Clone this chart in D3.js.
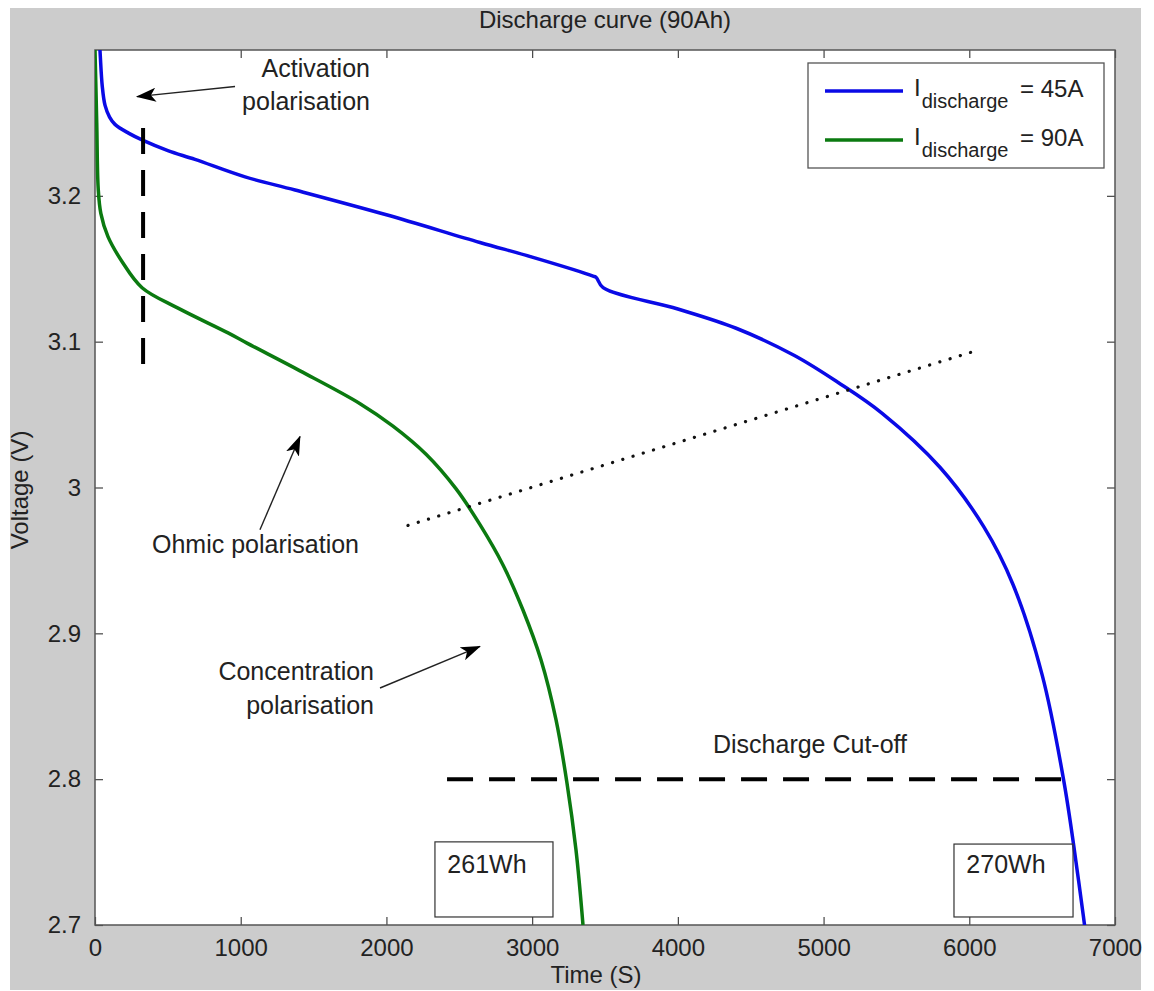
<!DOCTYPE html>
<html>
<head>
<meta charset="utf-8">
<script src="https://cdn.jsdelivr.net/npm/d3@7"></script>
<style>
  body { margin: 0; background: #fff; }
  svg text { font-family: "Liberation Sans", Arial, sans-serif; fill: #222; }
</style>
</head>
<body>
<svg id="chart" width="1154" height="991"></svg>
<script>
// Discharge curves (time in s, voltage in V)
const time45 = [0, 34, 50, 69, 100, 137, 230, 330, 500, 686, 1030, 1373, 2000, 2642, 3000, 3418, 3440, 3487, 4000, 4400, 4800, 5100, 5400, 5800, 6100, 6300, 6500, 6650, 6750, 6830];
const volt45 = [3.36, 3.30, 3.275, 3.262, 3.254, 3.249, 3.243, 3.238, 3.231, 3.225, 3.213, 3.204, 3.187, 3.168, 3.158, 3.145, 3.144, 3.137, 3.1224, 3.1092, 3.0905, 3.072, 3.051, 3.0137, 2.9730, 2.9335, 2.8715, 2.798, 2.7305, 2.67];

const time90 = [0, 12, 22, 40, 89, 185, 323, 570, 913, 1043, 1407, 1819, 2045, 2272, 2477, 2642, 2800, 2937, 3061, 3164, 3239, 3301, 3349];
const volt90 = [3.30, 3.25, 3.205, 3.188, 3.172, 3.155, 3.137, 3.123, 3.106, 3.099, 3.080, 3.0575, 3.0421, 3.0228, 2.9992, 2.9745, 2.9469, 2.9160, 2.8817, 2.8406, 2.7974, 2.7514, 2.70];

const seriesNames = ['= 45A', '= 90A'];
const seriesColors = ['#0a0ae6', '#0b7a10'];

const xTicks = [0, 1000, 2000, 3000, 4000, 5000, 6000, 7000];
const yTicks = [2.7, 2.8, 2.9, 3.0, 3.1, 3.2];

// annotation lines in data units: [t1, v1, t2, v2]
const activationDash = [330, 3.2465, 330, 3.082];
const cutoffDash = [2416, 2.8, 6691, 2.8];
const dottedTrend = [2148, 2.974, 6054, 3.094];
const arrows = [
  [961, 3.275, 288, 3.268],
  [1132, 2.971, 1407, 3.035],
  [1956, 2.8625, 2642, 2.891]
];
const energyBoxes = [
  { label: '261Wh', t0: 2333, t1: 3143, v0: 2.7055, v1: 2.757 },
  { label: '270Wh', t0: 5895, t1: 6712, v0: 2.7055, v1: 2.7555 }
];

const svg = d3.select('#chart');
const plot = { left: 95, right: 1115, top: 50, bottom: 925 };

// grey figure background like MATLAB
svg.append('rect').attr('x', 10).attr('y', 8).attr('width', 1131).attr('height', 982).attr('fill', '#cccccc');

const x = d3.scaleLinear().domain([0, 7000]).range([plot.left, plot.right]);
const y = d3.scaleLinear().domain([2.7, 3.3]).range([plot.bottom, plot.top]);

svg.append('rect')
  .attr('x', plot.left).attr('y', plot.top)
  .attr('width', plot.right - plot.left).attr('height', plot.bottom - plot.top)
  .attr('fill', '#fff');

svg.append('defs').append('clipPath').attr('id', 'clip')
  .append('rect')
  .attr('x', plot.left).attr('y', plot.top)
  .attr('width', plot.right - plot.left).attr('height', plot.bottom - plot.top);

// axes with inward ticks on all four sides
const tickLen = 8;
svg.append('g').attr('transform', `translate(0,${plot.bottom})`)
  .call(d3.axisBottom(x).tickValues(xTicks).tickSize(-tickLen).tickPadding(14).tickFormat(d3.format('d')));
svg.append('g').attr('transform', `translate(0,${plot.top})`)
  .call(d3.axisTop(x).tickValues(xTicks).tickSize(-tickLen).tickFormat(''));
svg.append('g').attr('transform', `translate(${plot.left},0)`)
  .call(d3.axisLeft(y).tickValues(yTicks).tickSize(-tickLen).tickPadding(14).tickFormat(d => String(+d.toFixed(1))));
svg.append('g').attr('transform', `translate(${plot.right},0)`)
  .call(d3.axisRight(y).tickValues(yTicks).tickSize(-tickLen).tickFormat(''));

svg.selectAll('.domain').remove();
svg.selectAll('.tick line').attr('stroke', '#444').attr('stroke-width', 1.2);
svg.selectAll('.tick text').attr('font-size', 24).attr('fill', '#222')
  .attr('font-family', '"Liberation Sans", Arial, sans-serif');

svg.append('rect')
  .attr('x', plot.left).attr('y', plot.top)
  .attr('width', plot.right - plot.left).attr('height', plot.bottom - plot.top)
  .attr('fill', 'none').attr('stroke', '#555').attr('stroke-width', 1.5);

// titles
svg.append('text').attr('x', 605).attr('y', 28).attr('text-anchor', 'middle')
  .attr('font-size', 24).text('Discharge curve (90Ah)');
svg.append('text').attr('x', 596).attr('y', 983).attr('text-anchor', 'middle')
  .attr('font-size', 24).text('Time (S)');
svg.append('text').attr('transform', 'translate(28,490) rotate(-90)').attr('text-anchor', 'middle')
  .attr('font-size', 24).text('Voltage (V)');

// curves
const line = d3.line().x(d => x(d[0])).y(d => y(d[1])).curve(d3.curveCatmullRom.alpha(0.5));
const g = svg.append('g').attr('clip-path', 'url(#clip)');
const data45 = time45.map((t, i) => [t, volt45[i]]);
const data90 = time90.map((t, i) => [t, volt90[i]]);

g.append('path').datum(data90).attr('d', line)
  .attr('fill', 'none').attr('stroke', seriesColors[1]).attr('stroke-width', 3.5);
g.append('path').datum(data45).attr('d', line)
  .attr('fill', 'none').attr('stroke', seriesColors[0]).attr('stroke-width', 3.5);

// annotation lines
function seg(a) {
  return svg.append('line')
    .attr('x1', x(a[0])).attr('y1', y(a[1]))
    .attr('x2', x(a[2])).attr('y2', y(a[3]));
}
seg(activationDash).attr('stroke', '#000').attr('stroke-width', 4).attr('stroke-dasharray', '26,16');
seg(cutoffDash).attr('stroke', '#000').attr('stroke-width', 4).attr('stroke-dasharray', '26,16');
seg(dottedTrend).attr('stroke', '#111').attr('stroke-width', 3.2)
  .attr('stroke-linecap', 'round').attr('stroke-dasharray', '0.1,10.6');

svg.select('defs').append('marker')
  .attr('id', 'head').attr('viewBox', '0 0 20 14').attr('refX', 19).attr('refY', 7)
  .attr('markerWidth', 20).attr('markerHeight', 14).attr('markerUnits', 'userSpaceOnUse')
  .attr('orient', 'auto')
  .append('path').attr('d', 'M0,0 L20,7 L0,14 L5,7 Z').attr('fill', '#000');

arrows.forEach(a => {
  seg(a).attr('stroke', '#222').attr('stroke-width', 1.4).attr('marker-end', 'url(#head)');
});

// annotation texts
const annFont = 25;
function label(t, v, txt, anchor) {
  return svg.append('text').attr('x', x(t)).attr('y', y(v))
    .attr('text-anchor', anchor).attr('font-size', annFont).text(txt);
}
label(1887, 3.2815, 'Activation', 'end');
label(1887, 3.2590, 'polarisation', 'end');
label(391, 2.955, 'Ohmic polarisation', 'start');
label(1915, 2.868, 'Concentration', 'end');
label(1915, 2.845, 'polarisation', 'end');
label(4907, 2.818, 'Discharge Cut-off', 'middle');

energyBoxes.forEach(b => {
  svg.append('rect')
    .attr('x', x(b.t0)).attr('y', y(b.v1))
    .attr('width', x(b.t1) - x(b.t0)).attr('height', y(b.v0) - y(b.v1))
    .attr('fill', 'none').attr('stroke', '#333').attr('stroke-width', 1.2);
  label(b.t0 + 85, 2.7356, b.label, 'start');
});

// legend
const legend = svg.append('g').attr('transform', 'translate(808,63)');
legend.append('rect').attr('width', 296).attr('height', 105)
  .attr('fill', '#fff').attr('stroke', '#555').attr('stroke-width', 1.3);
seriesNames.forEach((name, i) => {
  const row = legend.append('g').attr('transform', `translate(0,${28 + i * 49})`);
  row.append('line').attr('x1', 17).attr('x2', 95).attr('y1', 0).attr('y2', 0)
    .attr('stroke', seriesColors[i]).attr('stroke-width', 3.5);
  const t = row.append('text').attr('x', 106).attr('y', 5).attr('font-size', 24);
  t.append('tspan').text('I');
  t.append('tspan').attr('dx', 1).attr('dy', 12).attr('font-size', 20).text('discharge');
  row.append('text').attr('x', 212).attr('y', 6).attr('font-size', 24).text(name);
});
</script>
</body>
</html>
